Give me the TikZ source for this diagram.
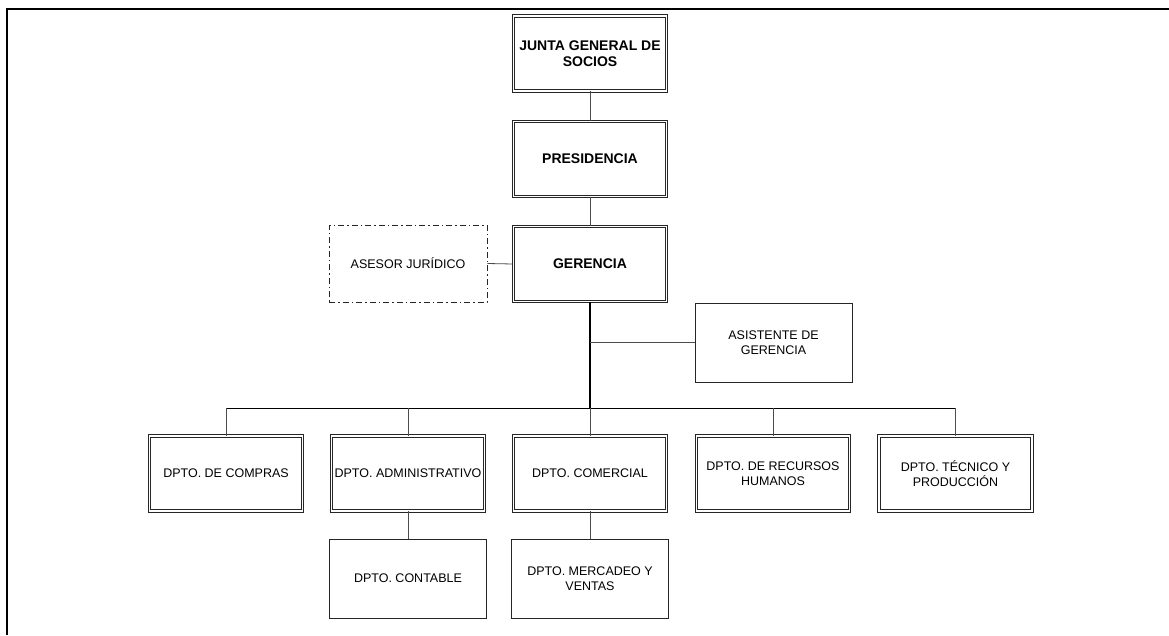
\documentclass[tikz,border=0pt]{standalone}
\usepackage{fontspec}
\setmainfont{Liberation Sans}
\begin{document}
\begin{tikzpicture}[x=1pt,y=-1pt,
  dbox/.style={draw=black!85, double=white, double distance=1.8pt, line width=0.7pt,
    minimum width=153pt, minimum height=75pt, inner sep=2pt, align=center,
    font=\fontsize{12.5}{15}\selectfont},
  topbox/.style={dbox, font=\fontsize{14}{16.5}\selectfont\bfseries},
  sbox/.style={draw=black!85, line width=0.8pt, minimum width=157pt, minimum height=79pt,
    inner sep=2pt, align=center, font=\fontsize{12.5}{15}\selectfont},
  dashbox/.style={sbox, dash pattern=on 6pt off 3pt on 1.5pt off 3pt, minimum width=158pt, minimum height=77pt},
  conn/.style={draw=black!70, line width=0.8pt},
  trunk/.style={draw=black, line width=1.6pt},
  bus/.style={draw=black, line width=0.9pt}]
\useasboundingbox (0,0) rectangle (1169,635);
\draw[line width=1.6pt] (7,635) -- (7,9) -- (1169,9);

\node[topbox] (junta) at (590,53.5) {JUNTA GENERAL DE\\SOCIOS};
\node[topbox] (pres) at (590,159) {PRESIDENCIA};
\node[topbox] (ger) at (590,264) {GERENCIA};
\node[dashbox] (ases) at (408,263.5) {ASESOR JURÍDICO};
\node[sbox] (asist) at (773.5,342.5) {ASISTENTE DE\\GERENCIA};

\node[dbox] (d1) at (226,473.5) {DPTO. DE COMPRAS};
\node[dbox] (d2) at (408,473.5) {DPTO. ADMINISTRATIVO};
\node[dbox] (d3) at (590,473.5) {DPTO. COMERCIAL};
\node[dbox] (d4) at (773,473.5) {DPTO. DE RECURSOS\\HUMANOS};
\node[dbox] (d5) at (955.5,473.5) {DPTO. TÉCNICO Y\\PRODUCCIÓN};

\node[sbox] (s2) at (408,578.5) {DPTO. CONTABLE};
\node[sbox] (s3) at (590,578.5) {DPTO. MERCADEO Y\\VENTAS};

\coordinate (bus) at (590,408);

\draw[conn] (junta.south) -- (pres.north);
\draw[conn] (pres.south) -- (ger.north);
\draw[conn] (ases.east) -- (ger.west);
\draw[trunk] (ger.south) -- (bus);
\draw[conn] (ger.south |- asist.west) -- (asist.west);
\draw[bus] (bus -| d1.north) -- (bus -| d5.north);
\foreach \d in {d1,d2,d3,d4,d5} {
  \draw[conn] (bus -| \d.north) -- (\d.north);
}
\draw[conn] (d2.south) -- (s2.north);
\draw[conn] (d3.south) -- (s3.north);
\end{tikzpicture}
\end{document}
